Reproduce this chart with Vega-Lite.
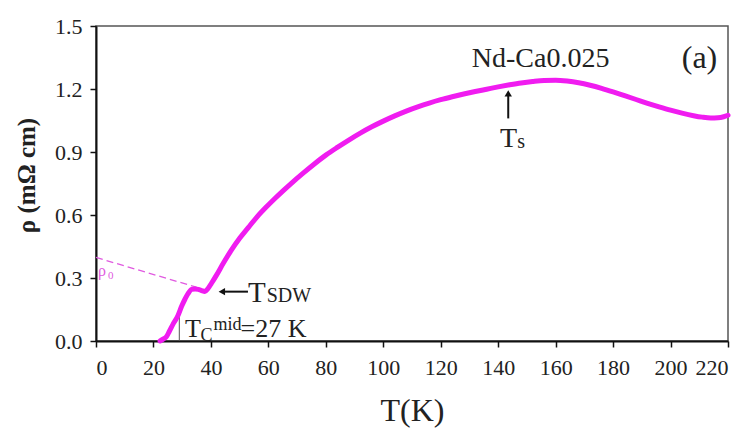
{
  "$schema": "https://vega.github.io/schema/vega-lite/v6.json",
  "width": 632,
  "height": 315,
  "autosize": {"type": "none"},
  "padding": {"left": 96, "top": 26, "right": 27, "bottom": 89},
  "background": "white",
  "config": {
    "view": {"stroke": "#555", "strokeWidth": 1.5},
    "font": "Liberation Serif",
    "axis": {
      "grid": false,
      "domainColor": "#111",
      "domainWidth": 2,
      "tickColor": "#111",
      "tickWidth": 1.5,
      "tickSize": 6,
      "labelFont": "Liberation Serif",
      "labelFontSize": 22,
      "labelColor": "#222",
      "titleFont": "Liberation Serif",
      "titleColor": "#222"
    }
  },
  "datasets": {
    "curve": [
      {"T": 22.3, "rho": 0.0}, {"T": 23.5, "rho": 0.01}, {"T": 24.5, "rho": 0.02},
      {"T": 25.5, "rho": 0.045}, {"T": 27, "rho": 0.085}, {"T": 28.5, "rho": 0.12},
      {"T": 29.8, "rho": 0.165}, {"T": 31, "rho": 0.2}, {"T": 32, "rho": 0.225},
      {"T": 33.3, "rho": 0.246}, {"T": 34.5, "rho": 0.248}, {"T": 35.6, "rho": 0.246},
      {"T": 36.8, "rho": 0.24}, {"T": 37.9, "rho": 0.236}, {"T": 39, "rho": 0.25},
      {"T": 40.2, "rho": 0.275}, {"T": 42, "rho": 0.315}, {"T": 44.3, "rho": 0.37},
      {"T": 47, "rho": 0.43}, {"T": 50, "rho": 0.489}, {"T": 53, "rho": 0.54},
      {"T": 56, "rho": 0.59}, {"T": 59, "rho": 0.634}, {"T": 62, "rho": 0.675},
      {"T": 65, "rho": 0.714}, {"T": 68, "rho": 0.751}, {"T": 72, "rho": 0.798},
      {"T": 76, "rho": 0.843}, {"T": 80, "rho": 0.885}, {"T": 84, "rho": 0.922},
      {"T": 88, "rho": 0.957}, {"T": 92, "rho": 0.99}, {"T": 96, "rho": 1.02},
      {"T": 100, "rho": 1.047}, {"T": 104, "rho": 1.072}, {"T": 108, "rho": 1.095},
      {"T": 112, "rho": 1.115}, {"T": 116, "rho": 1.133}, {"T": 120, "rho": 1.149},
      {"T": 124, "rho": 1.163}, {"T": 128, "rho": 1.176}, {"T": 132, "rho": 1.188},
      {"T": 136, "rho": 1.199}, {"T": 140, "rho": 1.21}, {"T": 144, "rho": 1.22},
      {"T": 148, "rho": 1.229}, {"T": 152, "rho": 1.236}, {"T": 156, "rho": 1.241},
      {"T": 160, "rho": 1.242}, {"T": 164, "rho": 1.238}, {"T": 168, "rho": 1.23},
      {"T": 172, "rho": 1.218}, {"T": 176, "rho": 1.203}, {"T": 180, "rho": 1.186},
      {"T": 184, "rho": 1.168}, {"T": 188, "rho": 1.15}, {"T": 192, "rho": 1.132},
      {"T": 196, "rho": 1.115}, {"T": 200, "rho": 1.099}, {"T": 204, "rho": 1.085},
      {"T": 208, "rho": 1.073}, {"T": 211, "rho": 1.066}, {"T": 214, "rho": 1.062},
      {"T": 216.5, "rho": 1.063}, {"T": 218.5, "rho": 1.068}, {"T": 220, "rho": 1.075}
    ],
    "dash": [{"T": 0, "rho": 0.398}, {"T": 35, "rho": 0.256}],
    "tc": [{"T": 29, "rho": 0, "rho2": 0.133}],
    "arrows": [
      {"T": 143.5, "rho": 1.06, "T2": 143.5, "rho2": 1.18},
      {"T": 44, "rho": 0.235, "T2": 52.9, "rho2": 0.235}
    ],
    "headUp": [{"T": 143.5, "rho": 1.179}],
    "headLeft": [{"T": 43.8, "rho": 0.235}],
    "labels": [
      {"role": "main", "T": 130.8, "rho": 1.306, "text": "Nd-Ca0.025"},
      {"role": "panel", "T": 203.9, "rho": 1.3, "text": "(a)"},
      {"role": "big", "T": 140.6, "rho": 0.925, "text": "T"},
      {"role": "sub", "T": 146.6, "rho": 0.919, "text": "s"},
      {"role": "bigT", "T": 52.9, "rho": 0.187, "text": "T"},
      {"role": "sub", "T": 59.4, "rho": 0.187, "text": "SDW"},
      {"role": "tc", "T": 31.0, "rho": 0.018, "text": "T"},
      {"role": "tcsub", "T": 36.4, "rho": 0.002, "text": "C"},
      {"role": "tcsub", "T": 40.9, "rho": 0.052, "text": "mid"},
      {"role": "tc", "T": 50.3, "rho": 0.018, "text": "=27 K"},
      {"role": "rho0", "T": 0.7, "rho": 0.31, "text": "ρ"},
      {"role": "rho0sub", "T": 4.2, "rho": 0.295, "text": "0"}
    ]
  },
  "encoding": {
    "x": {
      "field": "T", "type": "quantitative",
      "scale": {"domain": [0, 220], "nice": false, "zero": false},
      "axis": {
        "title": "T(K)",
        "values": [0, 20, 40, 60, 80, 100, 120, 140, 160, 180, 200, 220],
        "labelPadding": 10,
        "titleFontSize": 32,
        "titleFontWeight": "normal",
        "titleBaseline": "alphabetic",
        "titleY": 79
      }
    },
    "y": {
      "field": "rho", "type": "quantitative",
      "scale": {"domain": [0, 1.5], "nice": false, "zero": false},
      "axis": {
        "title": "ρ (mΩ cm)",
        "values": [0, 0.3, 0.6, 0.9, 1.2, 1.5],
        "format": ".1f",
        "labelPadding": 8,
        "titleFontSize": 25,
        "titleFontWeight": "bold",
        "titleAngle": -90,
        "titleBaseline": "alphabetic",
        "titleAlign": "center",
        "titleX": -62,
        "titleY": 149
      }
    }
  },
  "layer": [
    {
      "data": {"name": "dash"},
      "mark": {"type": "line", "color": "#e05ae0", "strokeWidth": 1.3, "strokeDash": [7, 4]}
    },
    {
      "data": {"name": "tc"},
      "mark": {"type": "rule", "color": "#555", "strokeWidth": 1},
      "encoding": {"y2": {"field": "rho2"}}
    },
    {
      "data": {"name": "curve"},
      "mark": {"type": "line", "color": "#f01cf0", "strokeWidth": 5, "strokeJoin": "round", "strokeCap": "round", "interpolate": "monotone"}
    },
    {
      "data": {"name": "arrows"},
      "mark": {"type": "rule", "color": "#111", "strokeWidth": 2},
      "encoding": {"x2": {"field": "T2"}, "y2": {"field": "rho2"}}
    },
    {
      "data": {"name": "headUp"},
      "mark": {"type": "point", "shape": "triangle-up", "filled": true, "color": "#111", "size": 55, "opacity": 1}
    },
    {
      "data": {"name": "headLeft"},
      "mark": {"type": "point", "shape": "triangle-left", "filled": true, "color": "#111", "size": 55, "opacity": 1}
    },
    {
      "data": {"name": "labels"},
      "transform": [{"filter": "datum.role == 'main'"}],
      "mark": {"type": "text", "align": "left", "baseline": "alphabetic", "fontSize": 28, "color": "#222", "font": "Liberation Serif"},
      "encoding": {"text": {"field": "text"}}
    },
    {
      "data": {"name": "labels"},
      "transform": [{"filter": "datum.role == 'panel'"}],
      "mark": {"type": "text", "align": "left", "baseline": "alphabetic", "fontSize": 32, "color": "#222", "font": "Liberation Serif"},
      "encoding": {"text": {"field": "text"}}
    },
    {
      "data": {"name": "labels"},
      "transform": [{"filter": "datum.role == 'big'"}],
      "mark": {"type": "text", "align": "left", "baseline": "alphabetic", "fontSize": 28, "color": "#222", "font": "Liberation Serif"},
      "encoding": {"text": {"field": "text"}}
    },
    {
      "data": {"name": "labels"},
      "transform": [{"filter": "datum.role == 'bigT'"}],
      "mark": {"type": "text", "align": "left", "baseline": "alphabetic", "fontSize": 29, "color": "#222", "font": "Liberation Serif"},
      "encoding": {"text": {"field": "text"}}
    },
    {
      "data": {"name": "labels"},
      "transform": [{"filter": "datum.role == 'sub'"}],
      "mark": {"type": "text", "align": "left", "baseline": "alphabetic", "fontSize": 20, "color": "#222", "font": "Liberation Serif"},
      "encoding": {"text": {"field": "text"}}
    },
    {
      "data": {"name": "labels"},
      "transform": [{"filter": "datum.role == 'tc'"}],
      "mark": {"type": "text", "align": "left", "baseline": "alphabetic", "fontSize": 26, "color": "#222", "font": "Liberation Serif"},
      "encoding": {"text": {"field": "text"}}
    },
    {
      "data": {"name": "labels"},
      "transform": [{"filter": "datum.role == 'tcsub'"}],
      "mark": {"type": "text", "align": "left", "baseline": "alphabetic", "fontSize": 18, "color": "#222", "font": "Liberation Serif"},
      "encoding": {"text": {"field": "text"}}
    },
    {
      "data": {"name": "labels"},
      "transform": [{"filter": "datum.role == 'rho0'"}],
      "mark": {"type": "text", "align": "left", "baseline": "alphabetic", "fontSize": 16, "color": "#e05ae0", "font": "Liberation Serif"},
      "encoding": {"text": {"field": "text"}}
    },
    {
      "data": {"name": "labels"},
      "transform": [{"filter": "datum.role == 'rho0sub'"}],
      "mark": {"type": "text", "align": "left", "baseline": "alphabetic", "fontSize": 11, "color": "#e05ae0", "font": "Liberation Serif"},
      "encoding": {"text": {"field": "text"}}
    }
  ]
}
